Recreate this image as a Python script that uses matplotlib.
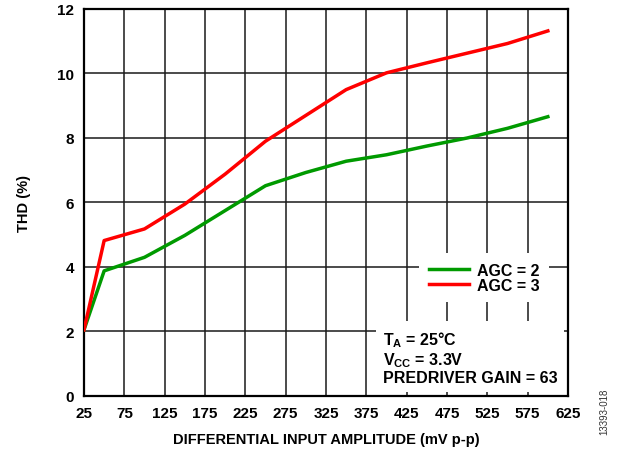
import matplotlib
matplotlib.use('Agg')
import matplotlib.pyplot as plt

plt.rcParams['font.family'] = ['Liberation Sans', 'DejaVu Sans']
plt.rcParams['font.weight'] = 'bold'
plt.rcParams['axes.labelweight'] = 'bold'
plt.rcParams['mathtext.fontset'] = 'custom'
plt.rcParams['mathtext.rm'] = 'Liberation Sans:bold'
plt.rcParams['mathtext.default'] = 'rm'

# Datos
amplitud = [25, 50, 100, 150, 200, 250, 300, 350, 400, 450, 500, 550, 600]
thd_agc2 = [2.05, 3.88, 4.3, 4.98, 5.75, 6.52, 6.93, 7.28, 7.48, 7.75, 8.0, 8.3, 8.66]
thd_agc3 = [2.05, 4.82, 5.18, 5.95, 6.88, 7.9, 8.7, 9.5, 10.02, 10.33, 10.63, 10.93, 11.32]
ticks_x = list(range(25, 626, 50))
ticks_y = list(range(0, 13, 2))

fig = plt.figure(figsize=(6.18, 4.52), dpi=100)
ax = fig.add_axes([0.1359, 0.1217, 0.7832, 0.8562])

ax.plot(amplitud, thd_agc2, color='#009a00', lw=2.5, label='AGC = 2', zorder=3)
ax.plot(amplitud, thd_agc3, color='#ff0000', lw=2.5, label='AGC = 3', zorder=3)

ax.set_xlim(25, 625)
ax.set_ylim(0, 12)
ax.set_xticks(ticks_x)
ax.set_yticks(ticks_y)
ax.tick_params(length=0, labelsize=11, pad=7)
ax.grid(True, color='#1a1a1a', lw=1.1)
for s in ax.spines.values():
    s.set_linewidth(1.6)

ax.set_xlabel('DIFFERENTIAL INPUT AMPLITUDE (mV p-p)', fontsize=10.5, labelpad=9)
ax.set_ylabel('THD (%)', fontsize=10.5, labelpad=19)

leg = ax.legend(loc='upper left', bbox_to_anchor=(0.676, 0.39), fontsize=11.5,
                handlelength=2.5, handletextpad=0.5, labelspacing=0.0, borderpad=0.6,
                fancybox=False, framealpha=1, edgecolor='none')
leg.set_zorder(5)

ax.text(0.617, 0.028, 'T$_{A}$ = 25°C\nV$_{CC}$ = 3.3V\nPREDRIVER GAIN = 63',
        transform=ax.transAxes, fontsize=11.5, va='bottom', ha='left', zorder=5,
        linespacing=1.1,
        bbox=dict(boxstyle='square,pad=0.4', facecolor='white', edgecolor='none'))

fig.text(0.978, 0.09, '13393-018', rotation=90, fontsize=7, fontweight='normal',
         color='#333333', ha='center', va='center')

fig.savefig('out.png', dpi=100)
